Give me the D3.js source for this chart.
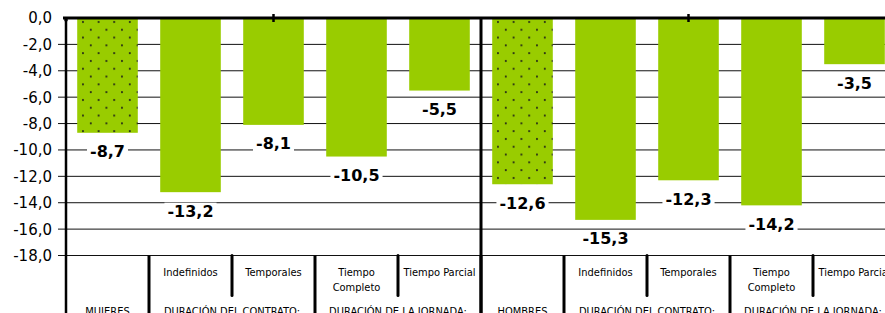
<!DOCTYPE html>
<html>
<head>
<meta charset="utf-8">
<script src="https://cdn.jsdelivr.net/npm/d3@7"></script>
<style>
  html, body { margin: 0; padding: 0; background: #fff; overflow: hidden; }
  svg { display: block; }
</style>
</head>
<body>
<div id="chart"></div>
<script>
// values
const categories = ['', 'Indefinidos', 'Temporales', 'Tiempo Completo', 'Tiempo Parcial',
  '', 'Indefinidos', 'Temporales', 'Tiempo Completo', 'Tiempo Parcial'];
const values = [-8.7, -13.2, -8.1, -10.5, -5.5, -12.6, -15.3, -12.3, -14.2, -3.5];
const dotted = [true, false, false, false, false, true, false, false, false, false];
const groupLabels = ['MUJERES', 'DURACIÓN DEL CONTRATO:', 'DURACIÓN DE LA JORNADA:',
  'HOMBRES', 'DURACIÓN DEL CONTRATO:', 'DURACIÓN DE LA JORNADA:'];
const groupSpans = [1, 2, 2, 1, 2, 2];
const halfSpans = [5, 5];
const yTicks = [0, -2, -4, -6, -8, -10, -12, -14, -16, -18];

const W = 885, H = 313;
const left = 66, plotTop = 18, plotBottom = 255.5;
const green = '#99CC00';
const fontFam = 'DejaVu Sans, Verdana, sans-serif';
const condFam = 'DejaVu Sans Condensed, DejaVu Sans, sans-serif';
const fmt = v => d3.format('.1f')(v).replace('.', ',').replace('−', '-');

const svg = d3.select('#chart').append('svg').attr('width', W).attr('height', H);

const x = d3.scaleBand().domain(d3.range(categories.length))
  .range([left, left + 83 * categories.length]).paddingInner(0.27).paddingOuter(0.135);
const y = d3.scaleLinear().domain([0, -18]).range([plotTop, plotBottom]);
const step = x.step();
const edge = i => x.range()[0] + i * step;

// one dot pattern per dotted bar so dots line up with the bar's edge
const defs = svg.append('defs');
dotted.forEach((on, i) => {
  if (!on) return;
  const p = defs.append('pattern').attr('id', 'dots' + i)
    .attr('patternUnits', 'userSpaceOnUse').attr('x', x(i)).attr('y', y(0))
    .attr('width', 15.6).attr('height', 15.6);
  p.append('rect').attr('width', 15.6).attr('height', 15.6).attr('fill', green);
  p.append('circle').attr('cx', 5.8).attr('cy', 4).attr('r', 1).attr('fill', '#1a1a1a');
  p.append('circle').attr('cx', 13.6).attr('cy', 11.8).attr('r', 1).attr('fill', '#1a1a1a');
});

// gridlines + y ticks
svg.selectAll('.grid').data(yTicks.filter(d => d !== 0)).join('line')
  .attr('x1', left - 8).attr('x2', W)
  .attr('y1', d => y(d)).attr('y2', d => y(d))
  .attr('stroke', '#111').attr('stroke-width', 1);

svg.selectAll('.ylab').data(yTicks).join('text')
  .attr('x', 52).attr('y', d => y(d)).attr('dy', '0.36em')
  .attr('text-anchor', 'end').attr('font-family', fontFam).attr('font-size', '15px')
  .attr('fill', '#000')
  .text(fmt);

// bars
svg.selectAll('.bar').data(values).join('rect')
  .attr('x', (d, i) => x(i)).attr('width', x.bandwidth())
  .attr('y', y(0)).attr('height', d => y(d) - y(0))
  .attr('fill', (d, i) => dotted[i] ? `url(#dots${i})` : green);

// axis lines
svg.append('line').attr('x1', left - 3).attr('x2', W).attr('y1', y(0)).attr('y2', y(0))
  .attr('stroke', '#000').attr('stroke-width', 3);
svg.append('line').attr('x1', left).attr('x2', left).attr('y1', y(0)).attr('y2', H)
  .attr('stroke', '#000').attr('stroke-width', 2.5);
svg.append('circle').attr('cx', left).attr('cy', y(0) + 2).attr('r', 1.8).attr('fill', '#000');

// top half ticks and separators
let acc = 0;
halfSpans.forEach(s => {
  const mid = (edge(acc) + edge(acc + s)) / 2;
  svg.append('line').attr('x1', mid).attr('x2', mid).attr('y1', y(0) - 4).attr('y2', y(0) + 4)
    .attr('stroke', '#000').attr('stroke-width', 2.5);
  acc += s;
  if (acc < categories.length) {
    svg.append('line').attr('x1', edge(acc)).attr('x2', edge(acc)).attr('y1', y(0)).attr('y2', H)
      .attr('stroke', '#000').attr('stroke-width', 3);
  }
});

// category level 1: short separators inside groups + labels
acc = 0;
groupSpans.forEach(s => {
  for (let k = 1; k < s; k++) {
    const xe = edge(acc + k);
    svg.append('line').attr('x1', xe).attr('x2', xe).attr('y1', plotBottom).attr('y2', plotBottom + 40)
      .attr('stroke', '#000').attr('stroke-width', 3).attr('stroke-linecap', 'round');
  }
  acc += s;
  if (acc < categories.length) {
    svg.append('line').attr('x1', edge(acc)).attr('x2', edge(acc)).attr('y1', plotBottom).attr('y2', H)
      .attr('stroke', '#000').attr('stroke-width', 3);
  }
});

categories.forEach((c, i) => {
  if (!c) return;
  const cx = x(i) + x.bandwidth() / 2;
  const lines = c === 'Tiempo Completo' ? ['Tiempo', 'Completo'] : [c];
  lines.forEach((t, j) => {
    svg.append('text').attr('x', cx).attr('y', 276 + j * 15)
      .attr('text-anchor', 'middle').attr('font-family', condFam).attr('font-size', '11px')
      .attr('fill', '#000').text(t);
  });
});

// category level 2 (cut by the bottom edge, as in the source)
acc = 0;
groupLabels.forEach((g, i) => {
  const cx = (edge(acc) + edge(acc + groupSpans[i])) / 2;
  svg.append('text').attr('x', cx).attr('y', 314.5)
    .attr('text-anchor', 'middle').attr('font-family', condFam).attr('font-size', '11px')
    .attr('fill', '#000').text(g);
  acc += groupSpans[i];
});

// value labels with white backing
values.forEach((v, i) => {
  const g = svg.append('g');
  const t = g.append('text').attr('x', x(i) + x.bandwidth() / 2).attr('y', y(v) + 24.5)
    .attr('text-anchor', 'middle').attr('font-family', fontFam).attr('font-size', '16px')
    .attr('font-weight', 'bold').attr('fill', '#000')
    .text(fmt(v));
  const bb = t.node().getBBox();
  g.insert('rect', 'text').attr('x', bb.x - 3).attr('y', bb.y + 1).attr('width', bb.width + 6)
    .attr('height', bb.height - 2).attr('fill', '#fff');
});
</script>
</body>
</html>
